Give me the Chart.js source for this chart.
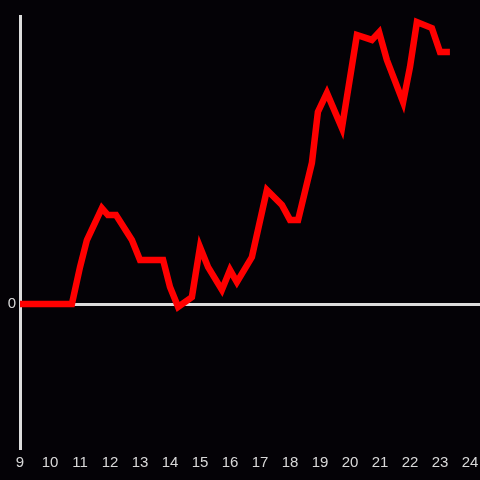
<!DOCTYPE html>
<html>
<head>
<meta charset="utf-8">
<script src="https://cdn.jsdelivr.net/npm/chart.js@4"></script>
<style>
  html, body { margin: 0; padding: 0; background: #040206; }
  #wrap { width: 480px; height: 480px; }
</style>
</head>
<body>
<div id="wrap"><canvas id="chart" width="480" height="480"></canvas></div>
<script>
// hour of day (x) and value (y)
const hours = [9.0, 10.73, 11.0, 11.23, 11.73, 11.93, 12.2, 12.73, 13.0, 13.77, 14.0, 14.27, 14.73,
    15.0, 15.27, 15.73, 16.0, 16.23, 16.73, 17.23, 17.73, 18.0, 18.27, 18.73, 18.93, 19.23, 19.73,
    20.23, 20.73, 20.97, 21.23, 21.77, 22.0, 22.23, 22.73, 23.0, 23.33];
const values = [0, 0, 12.8, 22.2, 33.3, 30.9, 30.9, 22.2, 15.3, 15.3, 5.9, -1.0, 2.4,
    19.8, 12.8, 4.9, 11.8, 7.6, 16.3, 39.6, 34.4, 29.2, 29.2, 49.0, 66.7, 73.3, 61.1,
    93.4, 91.7, 94.4, 84.7, 70.1, 82.3, 97.9, 95.8, 87.5, 87.5];
const yTicks = [0];

const axisColor = '#dcdcdc';
const textColor = '#d8d8d8';

new Chart(document.getElementById('chart').getContext('2d'), {
    type: 'line',
    data: {
        datasets: [{
            data: hours.map((h, i) => ({ x: h, y: values[i] })),
            borderColor: '#ff0000',
            borderWidth: 6.5,
            pointRadius: 0,
            tension: 0,
            fill: false
        }]
    },
    options: {
        responsive: false,
        animation: false,
        layout: { padding: { top: 16, right: 0, left: 0, bottom: 0 } },
        plugins: { legend: { display: false }, tooltip: { enabled: false } },
        scales: {
            x: {
                type: 'linear',
                min: 9,
                max: 24.333,
                afterBuildTicks: scale => {
                    const t = [];
                    for (let h = 9; h <= 24; h++) t.push({ value: h });
                    scale.ticks = t;
                },
                afterFit: scale => {
                    scale.height = 32;
                    scale.paddingLeft = 0;
                    scale.paddingRight = 0;
                },
                grid: { display: false, drawTicks: false },
                border: { display: false },
                ticks: {
                    color: textColor,
                    font: { family: 'Liberation Sans, Arial', size: 15 },
                    padding: 6,
                    maxRotation: 0,
                    autoSkip: false
                }
            },
            y: {
                min: -50,
                max: 100,
                afterBuildTicks: scale => { scale.ticks = yTicks.map(v => ({ value: v })); },
                afterFit: scale => { scale.width = 20; },
                grid: {
                    color: ctx => (ctx.tick && ctx.tick.value === 0 ? axisColor : 'transparent'),
                    lineWidth: 3,
                    drawTicks: false
                },
                border: { display: true, color: axisColor, width: 3 },
                ticks: {
                    color: textColor,
                    font: { family: 'Liberation Sans, Arial', size: 15 },
                    padding: 4
                }
            }
        }
    }
});
</script>
</body>
</html>
